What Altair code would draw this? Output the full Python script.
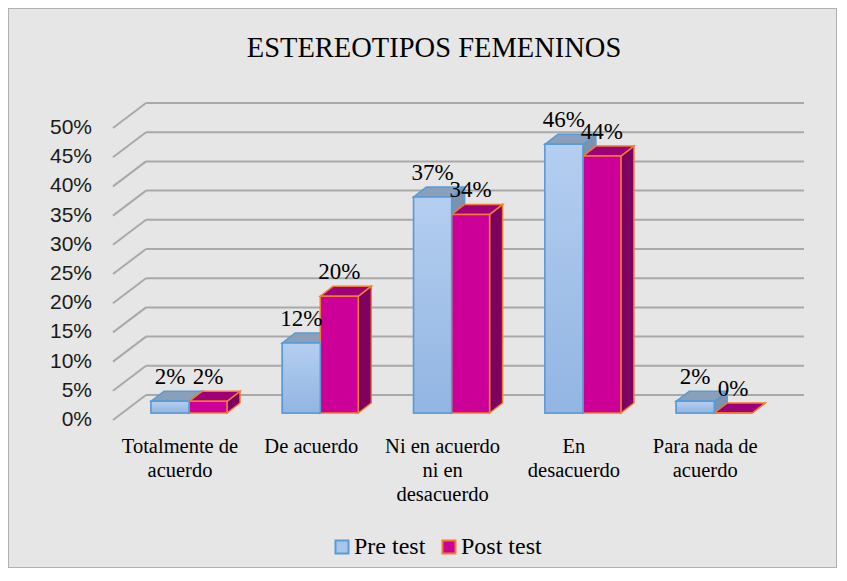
import altair as alt
import pandas as pd

# ---------------- data ----------------
title_text = "ESTEREOTIPOS FEMENINOS"
categories = [
    "Totalmente de\nacuerdo",
    "De acuerdo",
    "Ni en acuerdo\nni en\ndesacuerdo",
    "En\ndesacuerdo",
    "Para nada de\nacuerdo",
]
series_names = ["Pre test", "Post test"]
pre_test = [2, 12, 37, 46, 2]
post_test = [2, 20, 34, 44, 0]
y_ticks = [0, 5, 10, 15, 20, 25, 30, 35, 40, 45, 50]

# ---------------- layout (pixels) ----------------
W, H = 829, 560
PX_CAT = 131.3          # pixels between category centres
PX_PCT = 5.84           # pixels per percent
X0 = 172                # view x of first category centre (front plane)
Y0 = 412                # view y of 0 % on front plane
TICK_LABEL_X = 84       # right edge of the y tick labels
WALL_FRONT_X = 105      # where the diagonal grid lines start
WALL_END_X = 796        # where the back-wall grid lines end
WALL_DEPTH = (33, 25)   # back wall offset (dx, up)
BAR_PLANE = (9, 7)      # bar plane offset from front plane
BAR_W = 38              # bar width
BAR_DEPTH = (13, 10)    # bar depth offset
LABEL_GAP = 17          # value label baseline above bar front top
CAT_LABEL_TOP = 429     # view y of the category label top


def ux(px):
    return px / PX_CAT


def uy(px):
    return px / PX_PCT


xs = alt.Scale(domain=[-X0 / PX_CAT, (W - X0) / PX_CAT], nice=False, zero=False)
ys = alt.Scale(domain=[-(H - Y0) / PX_PCT, Y0 / PX_PCT], nice=False, zero=False)

# ---------------- derived tables ----------------
grid = pd.DataFrame({"t": y_ticks})
grid["xf"] = (WALL_FRONT_X - X0) / PX_CAT
grid["yf"] = grid["t"]
grid["xb"] = grid["xf"] + ux(WALL_DEPTH[0])
grid["yb"] = grid["t"] + uy(WALL_DEPTH[1])
grid["xe"] = (WALL_END_X - X0) / PX_CAT
grid["xl"] = (TICK_LABEL_X - X0) / PX_CAT
grid["lab"] = [f"{t}%" for t in y_ticks]

fronts, tops, sides, vlabels = [], [], [], []
for k, (name, vals) in enumerate(zip(series_names, [pre_test, post_test])):
    for i, v in enumerate(vals):
        c = i + ux(BAR_PLANE[0])
        if k == 0:
            x0, x1 = c - ux(BAR_W), c
        else:
            x0, x1 = c, c + ux(BAR_W)
        y0, y1 = uy(BAR_PLANE[1]), v + uy(BAR_PLANE[1])
        bid = f"{k}-{i}"
        fronts.append({"series": name, "x0": x0, "x1": x1, "y0": y0, "y1": y1})
        tops.append({"series": name, "id": bid, "yy": y1, "xa": x0, "xb": x1})
        tops.append({"series": name, "id": bid, "yy": y1 + uy(BAR_DEPTH[1]),
                     "xa": x0 + ux(BAR_DEPTH[0]), "xb": x1 + ux(BAR_DEPTH[0])})
        sides.append({"series": name, "id": bid, "xx": x1, "ya": y0, "yb": y1})
        sides.append({"series": name, "id": bid, "xx": x1 + ux(BAR_DEPTH[0]),
                      "ya": y0 + uy(BAR_DEPTH[1]), "yb": y1 + uy(BAR_DEPTH[1])})
        vlabels.append({"series": name, "xc": (x0 + x1) / 2, "yl": y1 + uy(LABEL_GAP),
                        "txt": f"{v}%"})

fronts = pd.DataFrame(fronts)
tops = pd.DataFrame(tops)
sides = pd.DataFrame(sides)
vlabels = pd.DataFrame(vlabels)
cats = pd.DataFrame({"i": range(len(categories)), "label": categories,
                     "y": (Y0 - CAT_LABEL_TOP) / PX_PCT})
title_df = pd.DataFrame({"t": [title_text]})

GRID_COLOR = "#a9a9a9"
PRE_BORDER, POST_BORDER = "#5b9bd5", "#ed7d31"
PRE_TOP, PRE_SIDE = "#8a9fba", "#7c92ad"
POST_FRONT, POST_TOP, POST_SIDE = "#cc0099", "#9e0078", "#7e005f"

# ---------------- layers ----------------
diag = alt.Chart(grid).mark_rule(color=GRID_COLOR, strokeWidth=2).encode(
    x=alt.X("xf:Q", scale=xs, axis=None),
    y=alt.Y("yf:Q", scale=ys, axis=None),
    x2="xb:Q", y2="yb:Q",
)
backlines = alt.Chart(grid).mark_rule(color=GRID_COLOR, strokeWidth=2).encode(
    x=alt.X("xb:Q", scale=xs, axis=None),
    x2="xe:Q",
    y=alt.Y("yb:Q", scale=ys, axis=None),
)
tick_text = alt.Chart(grid).mark_text(
    font="Liberation Sans", fontSize=21, color="#1a1a1a", align="right",
    baseline="middle",
).encode(
    x=alt.X("xl:Q", scale=xs, axis=None),
    y=alt.Y("yf:Q", scale=ys, axis=None),
    text="lab:N",
)


def side_layer(name, fill, stroke):
    return alt.Chart(sides[sides.series == name]).mark_area(
        orient="vertical", fill=fill, stroke=stroke, strokeWidth=1.5
    ).encode(
        x=alt.X("xx:Q", scale=xs, axis=None),
        y=alt.Y("ya:Q", scale=ys, axis=None),
        y2="yb:Q",
        detail="id:N",
    )


def top_layer(name, fill, stroke):
    return alt.Chart(tops[tops.series == name]).mark_area(
        orient="horizontal", fill=fill, stroke=stroke, strokeWidth=1.5
    ).encode(
        y=alt.Y("yy:Q", scale=ys, axis=None),
        x=alt.X("xa:Q", scale=xs, axis=None),
        x2="xb:Q",
        detail="id:N",
    )


legend = alt.Legend(
    orient="none", legendX=322, legendY=527, direction="horizontal", title=None,
    labelFont="Liberation Serif", labelFontSize=24, labelColor="#000",
    symbolType="square", symbolSize=169, symbolStrokeWidth=2,
    columnPadding=11, labelOffset=0,
)
front_layer = alt.Chart(fronts).mark_rect(strokeWidth=1.5).encode(
    x=alt.X("x0:Q", scale=xs, axis=None),
    x2="x1:Q",
    y=alt.Y("y0:Q", scale=ys, axis=None),
    y2="y1:Q",
    fill=alt.Fill("series:N", scale=alt.Scale(domain=series_names,
                                              range=["#a9c6ea", POST_FRONT]),
                  legend=legend),
    stroke=alt.Stroke("series:N", scale=alt.Scale(domain=series_names,
                                                  range=[PRE_BORDER, POST_BORDER]),
                      legend=legend),
)
pre_gradient = alt.Chart(fronts[fronts.series == series_names[0]]).mark_rect(
    fill=alt.Gradient(
        gradient="linear",
        stops=[alt.GradientStop(color="#b4cef0", offset=0),
               alt.GradientStop(color="#92b5e2", offset=1)],
        x1=0, x2=0, y1=0, y2=1),
    stroke=PRE_BORDER, strokeWidth=1.5,
).encode(
    x=alt.X("x0:Q", scale=xs, axis=None),
    x2="x1:Q",
    y=alt.Y("y0:Q", scale=ys, axis=None),
    y2="y1:Q",
)

value_text = alt.Chart(vlabels).mark_text(
    font="Liberation Serif", fontSize=23, color="#000", baseline="alphabetic"
).encode(
    x=alt.X("xc:Q", scale=xs, axis=None),
    y=alt.Y("yl:Q", scale=ys, axis=None),
    text="txt:N",
)

cat_text = alt.Chart(cats).mark_text(
    font="Liberation Serif", fontSize=20.5, color="#000", baseline="top",
    lineBreak="\n", lineHeight=24,
).encode(
    x=alt.X("i:Q", scale=xs, axis=None),
    y=alt.Y("y:Q", scale=ys, axis=None),
    text="label:N",
)

title_mark = alt.Chart(title_df).mark_text(
    font="Liberation Serif", fontSize=28.5, color="#000", baseline="alphabetic"
).encode(x=alt.value(426), y=alt.value(49), text="t:N")

chart = alt.layer(
    diag, backlines, tick_text,
    side_layer(series_names[0], PRE_SIDE, PRE_BORDER),
    top_layer(series_names[0], PRE_TOP, PRE_BORDER),
    side_layer(series_names[1], POST_SIDE, POST_BORDER),
    top_layer(series_names[1], POST_TOP, POST_BORDER),
    front_layer, pre_gradient,
    value_text, cat_text, title_mark,
).properties(
    width=W, height=H, padding=0,
    autosize=alt.AutoSizeParams(type="none"),
    background="white",
).configure_view(
    fill="#e6e6e6", stroke="#b0b0b0", strokeWidth=2,
)

chart.save("out.html", embed_options={"renderer": "svg", "actions": False})
